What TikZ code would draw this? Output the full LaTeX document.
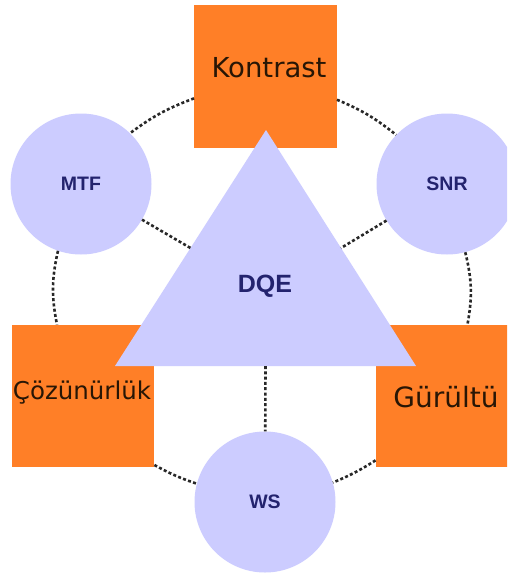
\documentclass[tikz,border=0pt]{standalone}
\usepackage{fontspec}
\setmainfont{DejaVu Sans}
\newfontfamily\lsans{Liberation Sans}
\usetikzlibrary{calc}
\definecolor{boxorange}{RGB}{255,127,39}
\definecolor{lav}{RGB}{204,204,255}
\definecolor{navy}{RGB}{35,35,110}
\definecolor{boxtext}{RGB}{40,22,5}
\definecolor{ringgray}{RGB}{40,40,40}
\begin{document}
\begin{tikzpicture}[x=1pt,y=-1pt,
  sqbox/.style={rectangle, fill=boxorange, minimum width=142.5pt, minimum height=142.5pt, inner sep=0pt},
  boxlabel/.style={text=boxtext, inner sep=0pt},
  disc/.style={circle, fill=lav, minimum size=141pt, inner sep=0pt, text=navy, font=\lsans\bfseries\fontsize{19.5}{20}\selectfont},
  link/.style={draw=ringgray, line width=2.6pt, dash pattern=on 3pt off 2.3pt}]
\useasboundingbox (0,0) rectangle (507,574);
\fill[white] (0,0) rectangle (507,574);
\clip (0,0) rectangle (507,574);
% boxes
\node[sqbox] (kon) at (265.5,76.5) {};
\node[sqbox] (coz) at (83,396) {};
\node[sqbox] (gur) at (447,396) {};
% circles
\node[disc] (mtf) at (81,184) {MTF};
\node[disc] (snr) at (447,184) {SNR};
\node[disc] (ws) at (265,502) {WS};
% triangle
\coordinate (tA) at (266,130);
\coordinate (tL) at (115,366);
\coordinate (tR) at (416,366);
\coordinate (tLm) at ($(tA)!0.5!(tL)$);
\coordinate (tRm) at ($(tA)!0.5!(tR)$);
\coordinate (tBm) at ($(tL)!0.5!(tR)$);
\fill[lav] (tA) -- (tL) -- (tR) -- cycle;
% labels
\node[boxlabel, font=\fontsize{27.5}{28}\selectfont] (konT) at (269,68) {Kontrast};
\node[boxlabel, font=\fontsize{24.5}{25}\selectfont] (cozT) at (82,393) {Çözünürlük};
\node[boxlabel, font=\fontsize{28}{29}\selectfont] (gurT) at (446,397) {Gürültü};
\node[text=navy, font=\lsans\bfseries\fontsize{25}{26}\selectfont] (dqe) at (265,286) {DQE};
% connectors
\draw[link] (kon.197) to[bend right=8] (mtf.46);
\draw[link] (kon.-18) to[bend left=8] (snr.136);
\draw[link] (mtf.251) to[bend right=12] (coz.110);
\draw[link] (snr.285) to[bend left=12] (gur.74);
\draw[link] (coz.-44) to[bend right=5] (ws.165);
\draw[link] (gur.222) to[bend left=5] (ws.16);
\draw[link] (mtf) -- (tLm);
\draw[link] (snr) -- (tRm);
\draw[link] (tBm) -- (ws);
\end{tikzpicture}
\end{document}
